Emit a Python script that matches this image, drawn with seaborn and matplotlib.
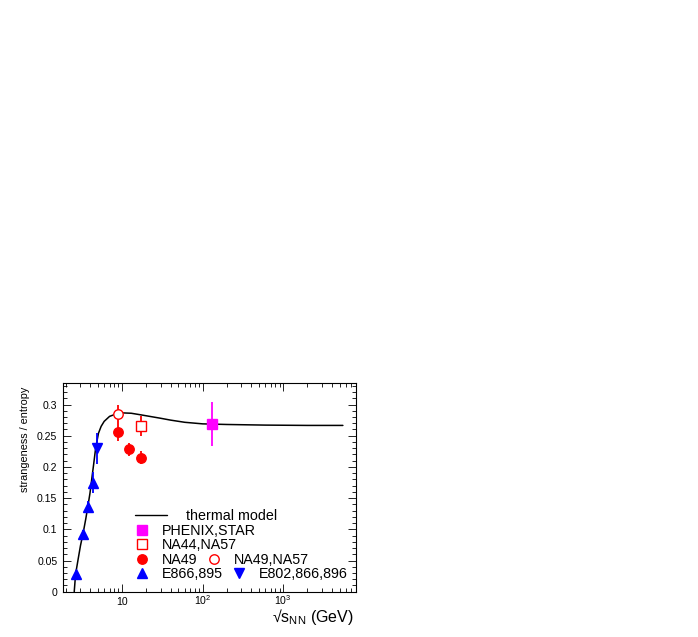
import numpy as np
import pandas as pd
import matplotlib
matplotlib.use("Agg")
import matplotlib.pyplot as plt
import seaborn as sns
from matplotlib.ticker import (LogLocator, FixedLocator, FixedFormatter,
                               FuncFormatter, MultipleLocator, NullFormatter)
from matplotlib.lines import Line2D

# ---------------- data ----------------
model_sqrts = [2.55, 2.65, 2.85, 3.05, 3.3, 3.55, 3.8, 4.0, 4.2, 4.45, 4.7,
               5.1, 5.5, 6.0, 7.0, 8.5, 10.5, 13.0, 17.0, 22.0, 30.0, 40.0,
               60.0, 100.0, 200.0, 600.0, 2000.0, 5500.0]
model_ratio = [0.000, 0.028, 0.052, 0.074, 0.095, 0.117, 0.140, 0.158, 0.180,
               0.205, 0.230, 0.254, 0.265, 0.273, 0.281, 0.285, 0.2865, 0.286,
               0.2835, 0.281, 0.278, 0.275, 0.2715, 0.269, 0.268, 0.267,
               0.2665, 0.2665]

e866_sqrts = [2.7, 3.3, 3.8, 4.3]
e866_ratio = [0.028, 0.093, 0.136, 0.175]
e866_err = [0.004, 0.006, 0.010, 0.017]

e802_sqrts = [4.85]
e802_ratio = [0.230]
e802_err = [0.025]

na49_sqrts = [8.8, 12.3, 17.3]
na49_ratio = [0.256, 0.228, 0.215]
na49_err = [0.014, 0.011, 0.010]

na49na57_sqrts = [8.8]
na49na57_ratio = [0.285]
na49na57_err = [0.015]

na44_sqrts = [17.3]
na44_ratio = [0.265]
na44_err = [0.016]

rhic_sqrts = [130.0]
rhic_ratio = [0.269]
rhic_err = [0.035]

x_tick_values = [10, 100, 1000]
x_tick_labels = ["10", "$10^{2}$", "$10^{3}$"]

# ---------------- style ----------------
sns.set_theme(style="ticks")
plt.rcParams["font.family"] = ["Liberation Sans", "DejaVu Sans"]
plt.rcParams["mathtext.fontset"] = "custom"
plt.rcParams["mathtext.rm"] = "Liberation Sans"
plt.rcParams["mathtext.it"] = "Liberation Sans:italic"
plt.rcParams["mathtext.bf"] = "Liberation Sans:bold"

W, H = 698, 637
fig = plt.figure(figsize=(W / 100, H / 100), dpi=100)
ax_l, ax_r, ax_t, ax_b = 63, 356, 383.3, 591.7
ax = fig.add_axes([ax_l / W, (H - ax_b) / H, (ax_r - ax_l) / W, (ax_b - ax_t) / H])
ax.set_facecolor("white")
for s in ax.spines.values():
    s.set_color("black")
    s.set_linewidth(0.8)

# thermal model
model_df = pd.DataFrame({"sqrts": model_sqrts, "ratio": model_ratio})
sns.lineplot(data=model_df, x="sqrts", y="ratio", ax=ax, color="black",
             lw=1.1, sort=False, estimator=None, zorder=2)

RED, BLUE, MAG = "#FF0000", "#0000FF", "#FF00FF"
ew = 1.3

ax.errorbar(e866_sqrts, e866_ratio, yerr=e866_err, fmt="^", color=BLUE,
            ms=6.8, mec=BLUE, mfc=BLUE, elinewidth=ew, capsize=0, zorder=3)
ax.errorbar(e802_sqrts, e802_ratio, yerr=e802_err, fmt="v", color=BLUE,
            ms=6.8, mec=BLUE, mfc=BLUE, elinewidth=ew, capsize=0, zorder=3)
ax.errorbar(na49_sqrts, na49_ratio, yerr=na49_err, fmt="o", color=RED,
            ms=6.8, mec=RED, mfc=RED, elinewidth=ew, capsize=0, zorder=3)
ax.errorbar(na49na57_sqrts, na49na57_ratio, yerr=na49na57_err, fmt="o",
            color=RED, ms=6.8, mec=RED, mfc="white", mew=1.0,
            elinewidth=ew, capsize=0, zorder=3)
ax.errorbar(na44_sqrts, na44_ratio, yerr=na44_err, fmt="s", color=RED,
            ms=7.4, mec=RED, mfc="white", mew=1.0, elinewidth=ew,
            capsize=0, zorder=3)
ax.errorbar(rhic_sqrts, rhic_ratio, yerr=rhic_err, fmt="s", color=MAG,
            ms=7.4, mec=MAG, mfc=MAG, elinewidth=ew, capsize=0, zorder=3)

# ---------------- axes ----------------
ax.set_xscale("log")
ax.set_xlim(1.85, 8000)
ax.set_ylim(0, 0.334)
ax.xaxis.set_major_locator(FixedLocator(x_tick_values))
ax.xaxis.set_major_formatter(FixedFormatter(x_tick_labels))
ax.xaxis.set_minor_locator(LogLocator(base=10, subs=np.arange(2, 10), numticks=30))
ax.xaxis.set_minor_formatter(NullFormatter())
ax.yaxis.set_major_locator(MultipleLocator(0.05))
ax.yaxis.set_minor_locator(MultipleLocator(0.01))
ax.yaxis.set_major_formatter(FuncFormatter(lambda v, p: f"{v:g}"))

ax.tick_params(which="both", direction="in", top=True, right=True,
               width=0.6, color="black", labelsize=7.6, labelcolor="black")
ax.tick_params(which="major", length=6)
ax.tick_params(which="minor", length=3)
ax.tick_params(axis="y", pad=4)
ax.tick_params(axis="x", pad=9.6)
for lab in ax.get_xticklabels():
    lab.set_verticalalignment("baseline")

ax.set_ylabel("strangeness / entropy", fontsize=7.8, loc="top", color="black")
ax.yaxis.set_label_coords(-0.114, 0.982)
ax.set_xlabel("√s$_{\\mathrm{NN}}$ (GeV)", fontsize=11.5, loc="right", color="black")
ax.xaxis.set_label_coords(0.991, -0.072)

# ---------------- legend ----------------
leg_fs = 10.3
fs_px = leg_fs * 100 / 72
axw, axh = ax_r - ax_l, ax_b - ax_t

def ax_x(px):
    return (px - ax_l) / axw

def ax_y(py):
    return (ax_b - py) / axh

def add_row(handles, labels, x0px, ypx, hl, htp, ncol=1):
    leg = ax.legend(handles, labels, loc="center left",
                    bbox_to_anchor=(ax_x(x0px), ax_y(ypx)),
                    bbox_transform=ax.transAxes, frameon=False,
                    borderpad=0, borderaxespad=0, handlelength=hl,
                    handletextpad=htp, ncol=ncol, columnspacing=0.6,
                    fontsize=leg_fs, labelspacing=0, labelcolor="black")
    ax.add_artist(leg)
    return leg

h_model = Line2D([], [], color="black", lw=1.0)
h_rhic = Line2D([], [], ls="none", marker="s", ms=6.5, mec=MAG, mfc=MAG)
h_na44 = Line2D([], [], ls="none", marker="s", ms=6.5, mec=RED, mfc="white", mew=1.0)
h_na49 = Line2D([], [], ls="none", marker="o", ms=6.8, mec=RED, mfc=RED)
h_na4957 = Line2D([], [], ls="none", marker="o", ms=6.8, mec=RED, mfc="white", mew=1.0)
h_e866 = Line2D([], [], ls="none", marker="^", ms=6.8, mec=BLUE, mfc=BLUE)
h_e802 = Line2D([], [], ls="none", marker="v", ms=6.8, mec=BLUE, mfc=BLUE)

marker_box_px = 142.3 - 0.5 * fs_px
htp_marker = (162.3 - (marker_box_px + fs_px)) / fs_px
add_row([h_model], ["thermal model"], 135.0, 515.7, 32.0 / fs_px, 18.7 / fs_px)
add_row([h_rhic], ["PHENIX,STAR"], marker_box_px, 530.8, 1.0, htp_marker)
add_row([h_na44], ["NA44,NA57"], marker_box_px, 545.0, 1.0, htp_marker)
add_row([h_na49, h_na4957], ["NA49", "NA49,NA57"], marker_box_px, 560.2, 1.0, htp_marker, ncol=2)
add_row([h_e866, h_e802], ["E866,895", "E802,866,896"], marker_box_px, 574.3, 1.0, htp_marker, ncol=2)
ax.legend_ = None

fig.savefig("out.png", dpi=100, facecolor="white")
